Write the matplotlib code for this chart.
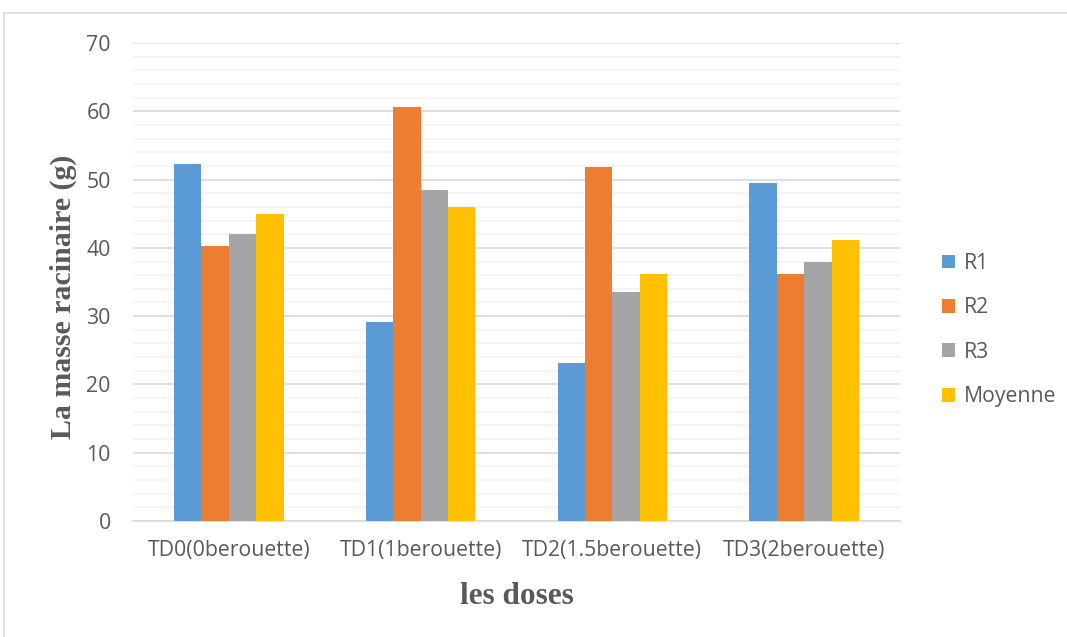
import matplotlib
matplotlib.use("Agg")
import matplotlib.pyplot as plt
import numpy as np
from matplotlib.lines import Line2D

categories = ["TD0(0berouette)", "TD1(1berouette)", "TD2(1.5berouette)", "TD3(2berouette)"]
series_names = ["R1", "R2", "R3", "Moyenne"]
r1 = [52.3, 29.1, 23.2, 49.5]
r2 = [40.3, 60.6, 51.9, 36.1]
r3 = [42.1, 48.4, 33.5, 38.0]
moyenne = [45.0, 46.0, 36.2, 41.2]
colors = ["#5B9BD5", "#ED7D31", "#A5A5A5", "#FFC000"]

W, H = 1067, 637
fig = plt.figure(figsize=(W / 100, H / 100), dpi=100)
ax = fig.add_axes([133 / W, 1 - 521 / H, (900 - 133) / W, (521 - 43) / H])

text_color = "#595959"
tick_size = 15.3
x = np.arange(len(categories))
bw = 0.143
series = [r1, r2, r3, moyenne]
handles = []
for i, (vals, name, c) in enumerate(zip(series, series_names, colors)):
    b = ax.bar(x + (i - 1.5) * bw, vals, bw, color=c, label=name, zorder=3)
    handles.append(b)

ax.set_xlim(-0.5, len(categories) - 0.5)
ax.set_ylim(0, 70)
ax.set_yticks(np.arange(0, 71, 10))
ax.set_yticks(np.arange(0, 71, 2), minor=True)
ax.grid(axis="y", which="major", color="#D9D9D9", linewidth=1.2, zorder=0)
ax.grid(axis="y", which="minor", color="#F2F2F2", linewidth=1.2, zorder=0)
ax.set_axisbelow(True)
for s in ["top", "right", "left"]:
    ax.spines[s].set_visible(False)
ax.spines["bottom"].set_color("#D9D9D9")
ax.spines["bottom"].set_linewidth(1.2)
ax.tick_params(axis="both", which="both", length=0, labelcolor=text_color, labelsize=tick_size)
ax.tick_params(axis="y", pad=16)
ax.tick_params(axis="x", pad=14)
ax.set_xticks(x)
ax.set_xticklabels(categories, fontfamily="Open Sans")
for lbl in ax.get_yticklabels():
    lbl.set_fontfamily("Open Sans")

ax.set_ylabel("La masse racinaire (g)", fontfamily="Liberation Serif", fontweight="bold",
              fontsize=21.5, color=text_color)
ax.yaxis.set_label_coords(-0.073, 0.468)
ax.set_xlabel("les doses", fontfamily="Liberation Serif", fontweight="bold",
              fontsize=22.5, color=text_color)
ax.xaxis.set_label_coords(0.5, -0.128)

leg = fig.legend(handles=handles, labels=series_names, loc="upper left",
                 bbox_to_anchor=(942 / W, 1 - 253 / H), frameon=False,
                 borderaxespad=0, borderpad=0,
                 prop={"family": "Open Sans", "size": tick_size}, labelcolor=text_color,
                 handlelength=0.63, handleheight=0.63, handletextpad=0.4, labelspacing=1.1)

# light frame around the chart area
fig.add_artist(Line2D([4 / W, 4 / W], [0, 1 - 13 / H], color="#D9D9D9", lw=1.2))
fig.add_artist(Line2D([4 / W, 1], [1 - 13 / H, 1 - 13 / H], color="#D9D9D9", lw=1.2))

fig.savefig("out.png", dpi=100)
